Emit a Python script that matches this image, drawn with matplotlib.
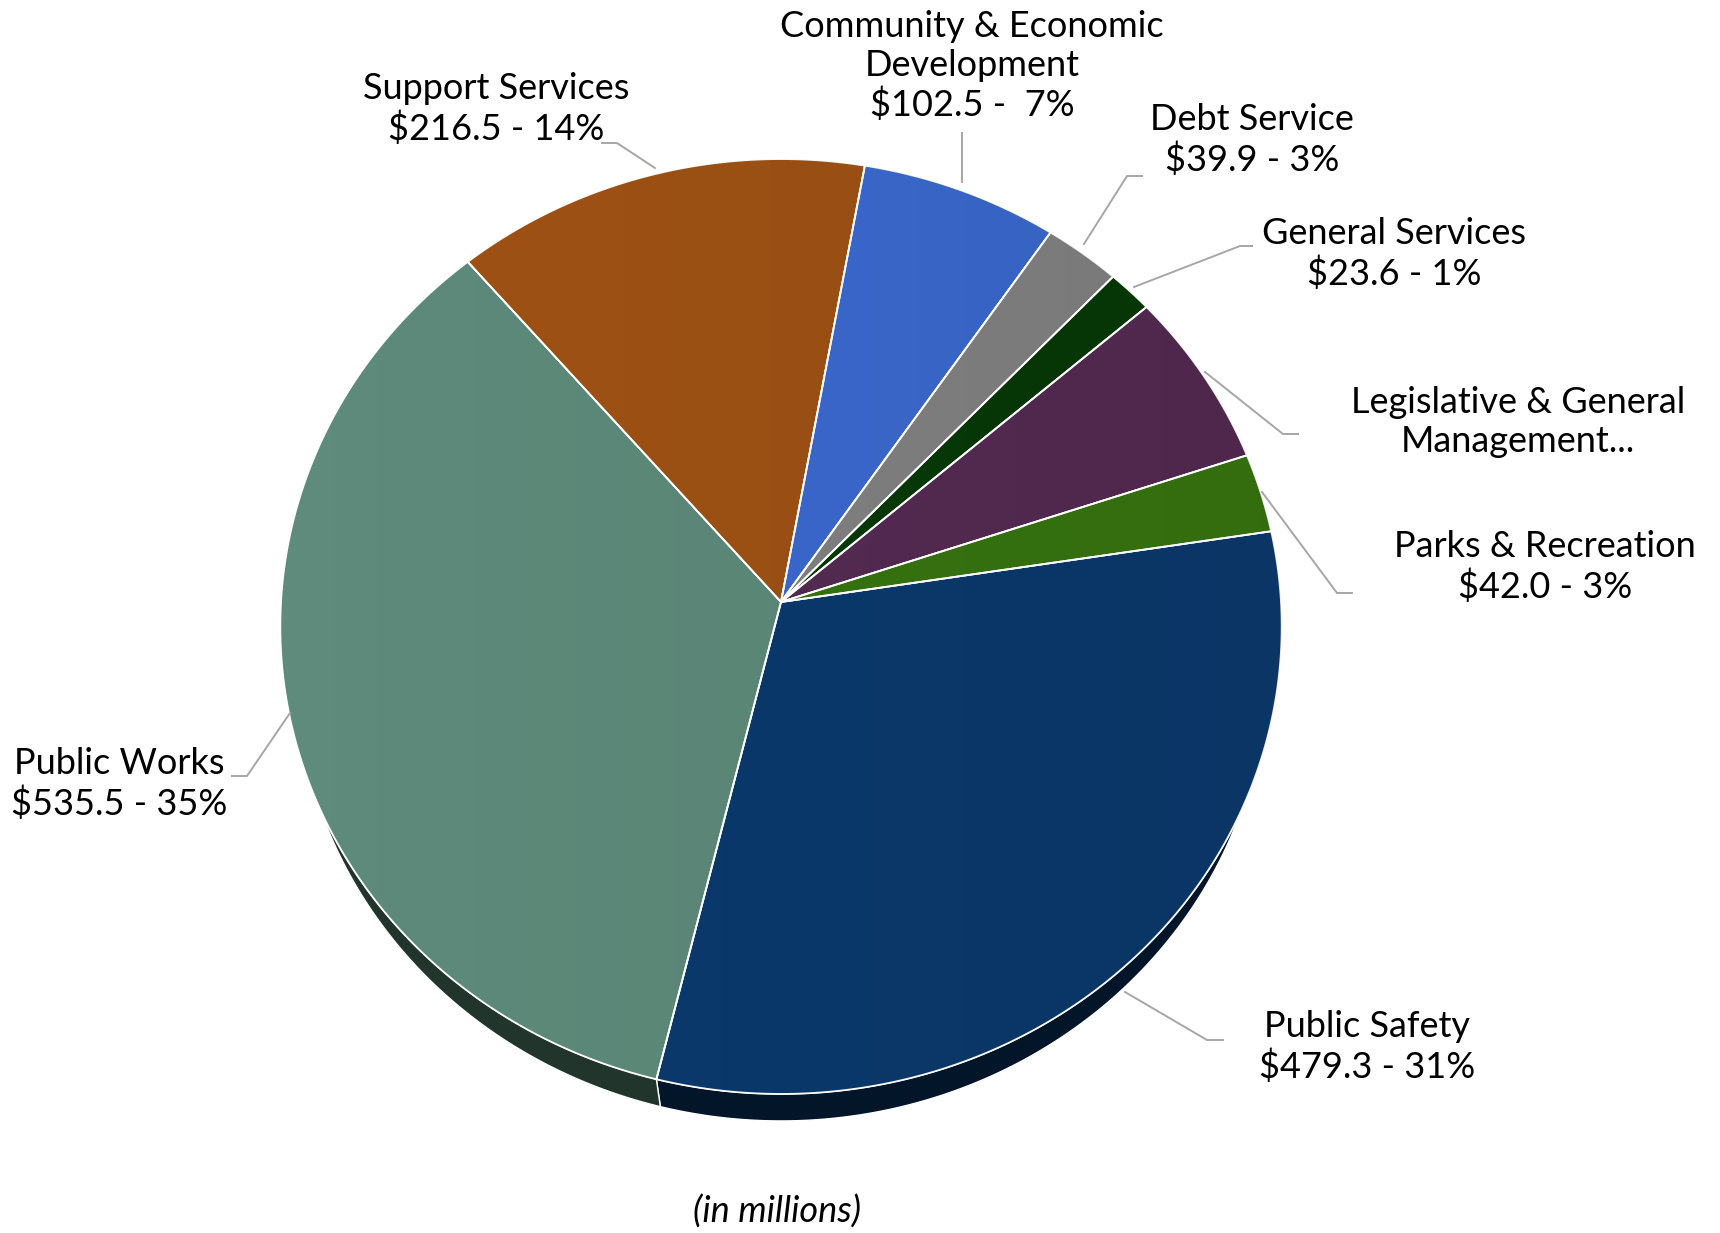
import numpy as np
import matplotlib
matplotlib.use("Agg")
import matplotlib.pyplot as plt
from matplotlib.patches import Polygon

# ---------------- data ----------------
categories = ["Public Safety", "Public Works", "Support Services",
              "Community & Economic Development", "Debt Service",
              "General Services", "Legislative & General Management",
              "Parks & Recreation"]
values = [479.3, 535.5, 216.5, 102.5, 39.9, 23.6, 94.7, 42.0]
label_texts = ["Public Safety\n$479.3 - 31%",
               "Public Works\n$535.5 - 35%",
               "Support Services\n$216.5 - 14%",
               "Community & Economic\nDevelopment\n$102.5 -  7%",
               "Debt Service\n$39.9 - 3%",
               "General Services\n$23.6 - 1%",
               "Legislative & General\nManagement...",
               "Parks & Recreation\n$42.0 - 3%"]
note_text = "(in millions)"

# ---------------- style ----------------
top_colors = ["#0b3a6e", "#5e8b7b", "#a05214", "#3b6ad0", "#838383",
              "#073a07", "#562b53", "#387610"]
wall_colors = ["#031529", "#21352c", "#3a1d07", "#15274c", "#303030",
               "#021502", "#1f0f1e", "#14290a"]

# label centres (pixels) and leader polylines (pixels)
label_pos = [(1367, 1047), (119, 784), (496, 109), (972, 66),
             (1252, 140), (1394, 254), (1518, 422), (1545, 567)]
leaders = [[(1125, 992), (1207, 1040), (1223, 1040)],
           [(290, 713), (247, 776), (232, 776)],
           [(655, 168), (617, 143), (602, 143)],
           [(962, 182), (962, 133)],
           [(1084, 244), (1127, 176), (1142, 176)],
           [(1134, 287), (1240, 246), (1252, 246)],
           [(1205, 372), (1283, 434), (1298, 434)],
           [(1262, 492), (1337, 593), (1352, 593)]]

W, H = 1720, 1233
CX, CY, R = 781.0, 602.0, 500.0
ALPHA = np.radians(21.2)
C, S = np.cos(ALPHA), np.sin(ALPHA)
F = 6.9
DEPTH = 0.231
START = 8.8

# slice angles computed by matplotlib's pie
tmpfig, tmpax = plt.subplots()
wedges, _ = tmpax.pie(values, startangle=START, counterclock=False)
spans = [(w.theta1, w.theta2) for w in wedges]
plt.close(tmpfig)


def proj(theta_deg, r=1.0, depth=0.0):
    t = np.radians(theta_deg)
    x = r * np.cos(t)
    z = r * np.sin(t)
    d = F + z * S + depth * C
    X = CX + R * x * F / d
    Y = CY - R * (z * C - depth * S) * F / d
    return X, Y


plt.rcParams["font.family"] = ["Lato", "DejaVu Sans"]
fig = plt.figure(figsize=(W / 100, H / 100), dpi=100)
ax = fig.add_axes([0, 0, 1, 1])
ax.set_xlim(0, W)
ax.set_ylim(H, 0)
ax.axis("off")

# walls
for (t1, t2), wc in zip(spans, wall_colors):
    n = max(3, int((t2 - t1) * 2))
    th = np.linspace(t1, t2, n)
    xt, yt = proj(th)
    xb, yb = proj(th[::-1], depth=DEPTH)
    pts = np.column_stack([np.r_[xt, xb], np.r_[yt, yb]])
    ax.add_patch(Polygon(pts, closed=True, facecolor=wc, edgecolor="white",
                         linewidth=1.0, zorder=1))

# tops
for (t1, t2), tc in zip(spans, top_colors):
    n = max(3, int((t2 - t1) * 2))
    th = np.linspace(t1, t2, n)
    xt, yt = proj(th)
    pts = np.column_stack([np.r_[CX, xt], np.r_[CY, yt]])
    ax.add_patch(Polygon(pts, closed=True, facecolor=tc, edgecolor="white",
                         linewidth=1.3, joinstyle="round", zorder=2))

# subtle horizontal shading on the top surface
th = np.linspace(0, 360, 721)
ex, ey = proj(th)
clip = Polygon(np.column_stack([ex, ey]), closed=True, transform=ax.transData,
               facecolor="none", edgecolor="none")
ax.add_patch(clip)
grad = np.zeros((2, 256, 4))
grad[..., 3] = np.linspace(0.0, 0.08, 256)[None, :]
im = ax.imshow(grad, extent=(ex.min(), ex.max(), ey.max(), ey.min()),
               aspect="auto", zorder=3, interpolation="bilinear")
im.set_clip_path(clip)
# redraw white separators above shading
for (t1, t2) in spans:
    x1, y1 = proj(t1)
    ax.plot([CX, x1], [CY, y1], color="white", lw=1.3, zorder=4,
            solid_capstyle="round")

# leaders
for pts in leaders:
    xs, ys = zip(*pts)
    ax.plot(xs, ys, color="#a6a6a6", lw=1.4, zorder=5)

# labels
for txt, (x, y) in zip(label_texts, label_pos):
    ax.text(x, y, txt, ha="center", va="center", fontsize=26,
            color="black", linespacing=1.22, zorder=6)

ax.text(777, 1212, note_text, ha="center", va="center", fontsize=26,
        style="italic", color="black")

fig.savefig("out.png", dpi=100, facecolor="white")
